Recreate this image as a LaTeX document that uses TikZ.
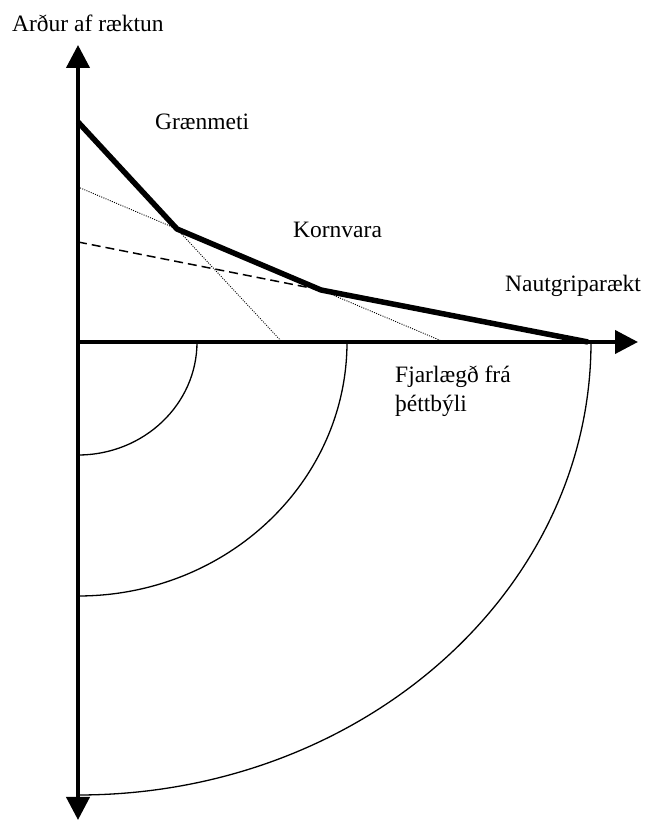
\documentclass[tikz,border=0pt]{standalone}
\usepackage{fontspec}
\setmainfont{Liberation Serif}
\usetikzlibrary{arrows.meta}
\tikzset{
  axis/.style={line width=4pt, -{Triangle[length=23pt,width=23pt]}},
  rent/.style={line width=5.5pt, line join=round},
  ring/.style={line width=1.3pt},
  ext/.style={line width=0.9pt, dash pattern=on 1pt off 1.3pt},
  cut/.style={line width=1.5pt, dash pattern=on 9pt off 5pt},
  lbl/.style={anchor=base west, inner sep=0pt, font=\fontsize{23.5}{29}\selectfont},
}
\begin{document}
\begin{tikzpicture}[x=1pt, y=1pt]
  \useasboundingbox (0,0) rectangle (647,821);
  % axes
  \coordinate (O) at (78,479);
  \coordinate (ytop) at (78,776);
  \coordinate (ybot) at (78,1);
  \coordinate (xend) at (638,479);
  \draw[axis] (O) -- (ybot);
  \draw[axis] (O) -- (ytop);
  \draw[axis] (O) -- (xend);
  % zones
  \foreach \rx/\ry in {119/113, 269/254, 513/453}
    \draw[ring] (O) ++(\rx,0) arc[start angle=0, end angle=-90, x radius=\rx pt, y radius=\ry pt];
  % bid rent lines
  \coordinate (A) at (78,699);
  \coordinate (B) at (177,592);
  \coordinate (C) at (321,531);
  \coordinate (D) at (588,479);
  \coordinate (g0) at (282,479);
  \coordinate (k0) at (78,634);
  \coordinate (k1) at (444,479);
  \coordinate (n0) at (78,579);
  \draw[ext] (B) -- (g0);
  \draw[ext] (k0) -- (B);
  \draw[ext] (C) -- (k1);
  \draw[cut] (n0) -- (C);
  \draw[rent] (A) -- (B) -- (C) -- (D);
  % labels
  \node[lbl] (yl) at (12,789) {Arður af ræktun};
  \node[lbl] (gr) at (155,691) {Grænmeti};
  \node[lbl] (ko) at (293,583) {Kornvara};
  \node[lbl] (na) at (505,529) {Nautgriparækt};
  \node[lbl, align=left] (xl) at (395,409) {Fjarlægð frá\\þéttbýli};
\end{tikzpicture}
\end{document}
